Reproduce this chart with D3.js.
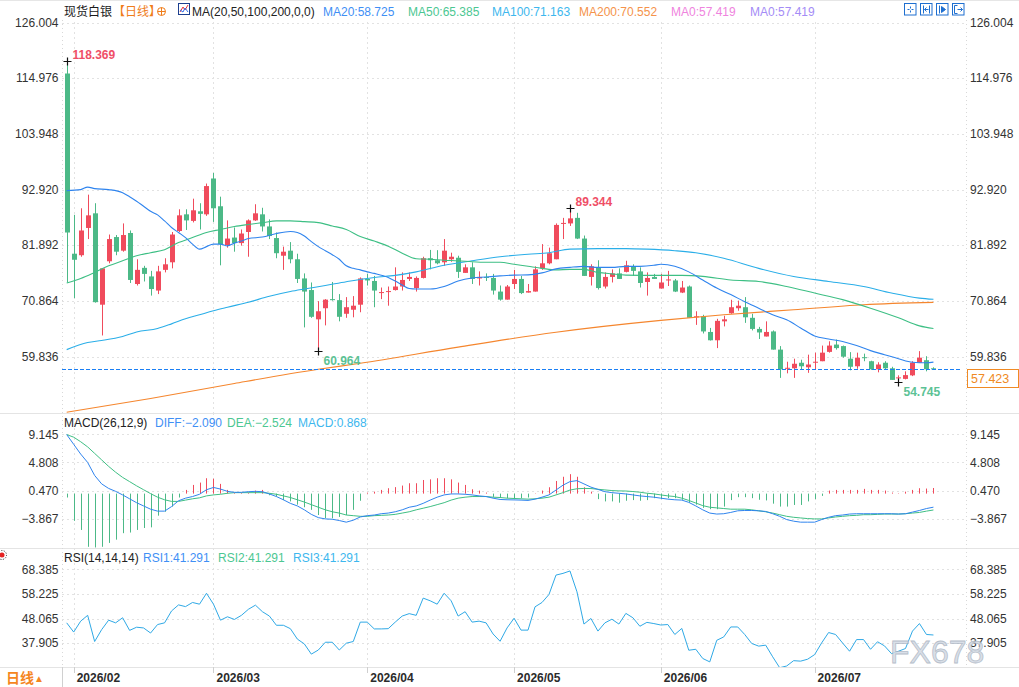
<!DOCTYPE html>
<html>
<head>
<meta charset="utf-8">
<title>现货白银 日线</title>
<script src="https://cdn.jsdelivr.net/npm/d3@7/dist/d3.min.js"></script>
<style>
  body { margin: 0; background: #fff; }
  svg { display: block; font-family: "Liberation Sans", Arial, "Noto Sans CJK SC", sans-serif; }
</style>
</head>
<body>
<svg id="chart" width="1019" height="687"></svg>
<script>
'use strict';

// daily candles, one per trading day (index 0 = last day of January)
var openPrices = [
  115.9, 80.2, 79.9, 85.3, 88.2, 70.1, 78.7, 83.5, 80.8, 84.3,
  74.2, 77.4, 75.7, 72.9, 77.0, 78.5, 84.7, 88.0, 86.7, 88.6,
  88.0, 95.1, 89.6, 81.9, 83.4, 82.3, 84.5, 86.8, 88.0, 85.6,
  83.3, 79.8, 80.8, 79.1, 75.3, 73.0, 67.2, 69.4, 71.2, 71.0,
  68.3, 69.1, 70.1, 75.2, 74.8, 72.4, 72.6, 73.0, 73.7, 75.2,
  73.4, 75.4, 79.3, 78.9, 78.5, 79.1, 79.4, 76.4, 77.5, 75.3,
  75.6, 75.4, 72.7, 71.1, 74.2, 75.2, 72.5, 72.7, 77.3, 78.3,
  79.1, 86.1, 86.2, 87.3, 83.2, 75.6, 77.5, 73.7, 75.6, 76.3,
  76.6, 77.7, 76.7, 74.6, 75.6, 73.3, 74.9, 74.9, 72.5, 73.7,
  67.6, 67.8, 64.7, 63.05, 66.8, 68.4, 69.4, 69.6, 67.5, 65.3,
  63.8, 64.8, 61.2, 57.4, 57.5, 58.6, 57.7, 58.6, 58.9, 60.75,
  62.2, 61.9, 59.4, 57.9, 59.7, 58.9, 57.3, 58.6, 57.5, 55.5,
  55.4, 56.1, 58.6, 59.1, 57.5
];
var highPrices = [
  118.369, 87.9, 89.2, 91.9, 90.2, 77.3, 84.0, 83.9, 86.2, 84.8,
  79.1, 77.8, 76.8, 77.8, 79.3, 84.5, 89.0, 89.0, 91.1, 90.2,
  94.1, 96.2, 91.5, 86.8, 85.4, 85.0, 87.0, 90.0, 89.3, 87.0,
  84.4, 81.6, 82.5, 80.2, 76.3, 74.5, 70.8, 71.2, 74.6, 72.2,
  71.6, 71.8, 75.5, 76.2, 75.8, 73.5, 73.7, 77.5, 76.5, 76.5,
  75.7, 79.6, 80.95, 80.9, 83.1, 80.4, 79.8, 78.1, 78.5, 76.7,
  76.3, 76.2, 73.9, 74.0, 77.0, 75.8, 74.2, 77.7, 82.1, 81.4,
  86.2, 87.3, 89.344, 88.3, 83.8, 78.1, 78.9, 76.5, 77.1, 77.3,
  78.8, 78.1, 77.5, 76.5, 76.2, 76.2, 76.8, 75.2, 74.8, 73.9,
  68.8, 68.1, 65.5, 67.3, 67.9, 71.07, 70.9, 71.6, 68.3, 65.7,
  66.8, 65.0, 61.9, 58.8, 59.4, 59.2, 60.2, 60.6, 62.0, 62.85,
  63.2, 62.0, 60.7, 60.6, 60.4, 59.0, 58.7, 58.9, 57.8, 56.1,
  56.9, 58.9, 60.9, 59.9, 57.7
];
var lowPrices = [
  74.5, 71.4, 79.6, 83.1, 70.5, 64.0, 78.3, 79.9, 80.6, 74.4,
  73.9, 74.7, 71.9, 72.2, 76.5, 77.3, 84.5, 84.9, 86.4, 85.0,
  87.7, 86.5, 77.9, 81.4, 80.6, 81.8, 79.6, 86.7, 84.6, 83.1,
  79.3, 77.0, 78.3, 74.4, 65.6, 67.5, 60.964, 66.0, 70.9, 66.8,
  67.5, 67.6, 68.6, 73.9, 69.6, 71.2, 69.9, 72.9, 72.9, 74.8,
  72.7, 75.3, 77.1, 78.1, 77.8, 78.6, 75.4, 76.4, 74.2, 73.9,
  74.8, 72.1, 70.9, 71.1, 73.2, 72.2, 72.5, 72.7, 77.0, 78.1,
  79.1, 83.1, 85.7, 83.1, 75.8, 73.9, 73.1, 73.3, 74.5, 75.2,
  76.5, 75.8, 73.5, 71.9, 75.2, 73.3, 73.8, 72.6, 72.4, 67.5,
  66.1, 64.4, 63.0, 61.5, 65.8, 68.3, 68.9, 66.5, 65.0, 63.3,
  63.8, 61.2, 55.6, 56.5, 55.6, 57.3, 56.6, 57.3, 58.9, 60.6,
  61.2, 59.6, 57.1, 57.4, 58.9, 57.2, 56.7, 57.3, 55.2, 54.745,
  55.3, 55.95, 58.6, 56.9, 57.2
];
var closePrices = [
  84.4, 79.0, 84.8, 87.8, 70.6, 77.3, 83.1, 80.6, 83.9, 75.0,
  77.0, 76.2, 73.2, 76.7, 78.1, 84.0, 87.8, 86.8, 88.8, 88.1,
  93.6, 89.2, 82.1, 83.2, 82.3, 84.2, 86.8, 88.2, 85.6, 83.7,
  80.3, 80.6, 79.1, 75.2, 72.7, 67.7, 68.8, 71.1, 71.0, 67.7,
  69.6, 69.9, 75.3, 74.9, 72.9, 72.6, 72.8, 73.7, 75.0, 75.6,
  75.4, 79.3, 78.9, 78.3, 80.8, 79.6, 76.6, 77.5, 75.2, 75.6,
  75.4, 72.9, 71.1, 73.7, 75.2, 72.4, 72.8, 77.1, 78.3, 80.3,
  85.9, 86.3, 87.2, 83.2, 75.8, 77.7, 73.4, 75.6, 76.3, 75.2,
  77.9, 76.8, 74.4, 75.4, 75.2, 74.5, 75.1, 72.7, 73.5, 67.5,
  67.8, 64.8, 63.05, 66.9, 67.2, 69.6, 69.9, 67.6, 65.3, 64.6,
  64.7, 61.2, 57.3, 57.6, 58.4, 57.9, 58.25, 58.8, 60.6, 62.0,
  61.5, 59.8, 57.8, 59.6, 59.5, 57.3, 58.25, 57.5, 55.2, 55.7,
  56.15, 58.6, 59.6, 57.3, 57.423
];

// moving averages as [day index, value]
var ma20 = [
  [0, 92.7], [2, 92.9], [3, 93.4], [4, 93.1], [6, 92.9], [8, 92.3], [9, 91.5], [10, 90.6],
  [11, 89.6], [12, 88.6], [13, 87.9], [14, 86.7], [15, 85.4], [16, 84.4], [17, 83.4], [18, 82.1],
  [19, 81.1], [20, 81.6], [21, 82.1], [22, 82.1], [23, 81.75], [24, 82.3], [25, 82.7], [26, 83.2],
  [28, 83.5], [30, 84.2], [32, 84.6], [33, 84.4], [34, 83.7], [35, 82.6], [36, 81.6], [37, 80.8],
  [38, 80.0], [39, 79.1], [40, 77.8], [41, 77.3], [42, 77.0], [43, 76.6], [44, 76.3], [46, 75.5],
  [47, 74.8], [48, 74.0], [49, 73.3], [50, 73.2], [52, 73.2], [54, 73.7], [56, 74.8], [58, 75.4],
  [60, 75.6], [62, 75.8], [64, 75.96], [66, 76.0], [68, 76.4], [70, 77.2], [72, 77.5], [74, 77.7],
  [76, 77.5], [78, 77.5], [80, 77.7], [82, 77.7], [84, 77.9], [85, 78.1], [87, 77.7], [89, 76.6],
  [91, 75.0], [93, 73.4], [95, 72.1], [97, 70.7], [99, 69.4], [101, 68.1], [103, 67.1], [105, 65.5],
  [107, 63.9], [109, 63.3], [111, 62.8], [113, 62.0], [115, 61.0], [117, 60.2], [119, 59.4],
  [121, 58.7], [123, 58.6], [124, 58.725]
];
var ma50 = [
  [0, 74.4], [2, 75.3], [4, 76.5], [6, 77.8], [8, 78.8], [10, 79.8], [12, 80.4], [14, 81.0],
  [16, 82.4], [18, 83.4], [20, 84.4], [22, 85.0], [24, 85.6], [26, 86.0], [28, 86.35], [30, 86.7],
  [32, 86.7], [34, 86.55], [36, 86.35], [38, 85.7], [40, 85.0], [42, 83.6], [44, 82.7], [46, 81.7],
  [48, 80.3], [50, 79.2], [52, 79.1], [54, 78.9], [56, 78.8], [58, 78.6], [60, 78.5], [62, 78.5],
  [64, 78.1], [66, 77.7], [68, 77.3], [70, 77.0], [72, 77.1], [74, 77.1], [76, 76.5], [78, 76.2],
  [80, 75.96], [84, 75.9], [88, 75.9], [91, 75.7], [95, 75.0], [99, 74.7], [103, 73.7],
  [107, 72.4], [111, 71.1], [115, 69.4], [119, 67.5], [122, 65.9], [124, 65.385]
];
var ma100 = [
  [0, 61.2], [3, 62.6], [5, 63.0], [8, 63.8], [10, 64.7], [13, 65.4], [15, 66.3], [17, 67.3],
  [19, 68.1], [21, 68.9], [23, 69.6], [26, 70.6], [29, 71.76], [32, 72.7], [34, 73.2], [37, 73.9],
  [40, 74.65], [44, 75.5], [47, 75.9], [50, 76.6], [54, 77.9], [58, 78.8], [62, 79.6], [66, 80.1],
  [69, 80.4], [72, 81.1], [76, 81.2], [80, 81.2], [83, 81.1], [87, 80.8], [90, 80.4], [94, 79.3],
  [99, 77.3], [104, 75.7], [109, 74.7], [114, 73.7], [118, 72.4], [122, 71.4], [124, 71.163]
];
var ma200 = [
  [0, 48.8], [12, 51.5], [24, 54.5], [36, 57.3], [42, 58.5], [56, 61.7], [70, 64.65],
  [85, 67.0], [94, 68.1], [104, 69.1], [114, 70.1], [124, 70.552]
];
var ma0Value = 57.419;

// MACD(26,12,9)
var macdDiff = [
  9.1, 7.6, 6.1, 4.8, 2.8, 1.5, 0.8, 0.35, -0.2, -0.8,
  -1.4, -1.9, -2.4, -2.7, -2.7, -2.0, -1.1, -0.7, -0.45, -0.1,
  0.6, 0.95, 0.7, 0.35, 0.2, 0.2, 0.3, 0.35, 0.3, -0.05,
  -0.45, -0.95, -1.5, -1.9, -2.5, -3.2, -3.7, -3.9, -3.95, -4.15,
  -4.4, -4.1, -3.6, -3.4, -3.3, -3.1, -3.0, -2.8, -2.5, -2.1,
  -1.9, -1.5, -1.0, -0.55, -0.2, -0.05, -0.05, -0.1, -0.2, -0.35,
  -0.45, -0.7, -0.9, -0.95, -0.97, -1.0, -1.05, -0.85, -0.55, -0.2,
  0.55, 1.3, 1.85, 2.0, 1.5, 1.0, 0.65, 0.3, 0.15, 0.05,
  -0.05, -0.2, -0.35, -0.45, -0.55, -0.7, -0.85, -0.95, -1.0, -1.35,
  -1.9, -2.5, -3.0, -3.15, -3.1, -2.9, -2.65, -2.6, -2.6, -2.65,
  -2.75, -3.1, -3.5, -4.0, -4.25, -4.4, -4.4, -4.4, -4.0, -3.65,
  -3.4, -3.3, -3.15, -3.1, -3.1, -3.1, -3.1, -3.1, -3.1, -3.15,
  -3.1, -2.85, -2.6, -2.3, -2.09
];
var macdDea = [
  9.1, 8.7, 8.0, 7.2, 6.2, 5.2, 4.2, 3.3, 2.5, 1.85,
  1.2, 0.6, 0.0, -0.55, -0.95, -1.2, -1.2, -1.0, -0.8, -0.65,
  -0.35, -0.2, -0.1, 0.05, 0.15, 0.15, 0.15, 0.15, 0.15, 0.05,
  -0.1, -0.35, -0.6, -0.95, -1.3, -1.7, -2.1, -2.5, -2.8, -3.0,
  -3.3, -3.4, -3.5, -3.5, -3.4, -3.35, -3.3, -3.2, -3.0, -2.8,
  -2.5, -2.25, -2.0, -1.7, -1.4, -1.0, -0.7, -0.55, -0.45, -0.45,
  -0.45, -0.55, -0.6, -0.7, -0.75, -0.8, -0.85, -0.8, -0.7, -0.55,
  -0.2, 0.15, 0.55, 0.75, 0.8, 0.78, 0.67, 0.57, 0.47, 0.42,
  0.4, 0.32, 0.22, 0.06, -0.04, -0.2, -0.35, -0.45, -0.7, -1.05,
  -1.45, -1.85, -2.1, -2.2, -2.3, -2.4, -2.4, -2.4, -2.5, -2.65,
  -2.8, -3.0, -3.25, -3.5, -3.65, -3.75, -3.85, -3.9, -3.9, -3.75,
  -3.6, -3.5, -3.4, -3.35, -3.25, -3.25, -3.2, -3.15, -3.15, -3.15,
  -3.1, -3.0, -2.9, -2.7, -2.524
];
var macdHist = [
  -0.6, -4.2, -5.6, -8.2, -8.3, -8.2, -7.6, -7.1, -6.1, -6.0,
  -5.6, -5.3, -5.2, -3.4, -2.8, -2.0, -0.6, 0.57, 1.34, 1.7,
  2.37, 2.3, 1.5, 0.57, 0.1, 0.1, 0.16, 0.46, 0.57, -0.25,
  -0.45, -1.0, -1.2, -1.7, -2.1, -2.5, -3.3, -3.8, -3.8, -3.6,
  -3.3, -2.5, -1.1, 0.15, 0.3, 0.57, 0.83, 1.0, 1.24, 1.6,
  1.6, 2.1, 2.2, 2.37, 2.37, 2.2, 1.7, 1.34, 0.67, 0.46,
  0.16, -0.5, -0.65, -0.7, -0.7, -0.7, -0.6, 0.05, 0.47, 0.98,
  1.95, 2.6, 3.0, 2.6, 0.98, 0.3, -0.85, -1.2, -1.2, -1.4,
  -1.1, -1.0, -1.1, -1.0, -0.7, -0.85, -0.7, -0.7, -0.95, -1.4,
  -1.7, -2.2, -2.4, -2.4, -2.0, -1.0, -0.55, -0.55, -0.7, -0.95,
  -1.05, -1.55, -2.0, -2.0, -1.75, -1.75, -1.2, -0.85, -0.35, 0.47,
  0.57, 0.57, 0.57, 0.57, 0.73, 0.57, 0.57, 0.47, 0.16, 0.06,
  0.3, 0.57, 0.83, 0.78, 0.868
];

// RSI(14,14,14) – the three lines coincide
var rsiValues = [
  46.3, 42.5, 47.0, 49.4, 38.6, 43.5, 47.4, 46.3, 48.4, 43.2,
  44.5, 44.2, 42.1, 45.6, 46.3, 51.2, 53.7, 53.0, 54.7, 54.0,
  58.5, 54.0, 47.4, 48.8, 47.7, 49.4, 51.9, 53.6, 50.9, 49.1,
  45.3, 45.3, 43.9, 39.6, 37.6, 33.4, 35.1, 38.3, 38.3, 35.1,
  37.9, 38.6, 46.6, 46.6, 43.8, 43.8, 43.9, 46.6, 49.1, 50.1,
  49.4, 56.5, 55.4, 54.0, 58.5, 55.4, 49.1, 50.9, 46.6, 47.0,
  46.3, 41.7, 38.7, 44.2, 48.2, 43.3, 43.3, 52.9, 54.7, 58.0,
  66.0, 66.7, 67.7, 59.1, 45.8, 48.1, 42.9, 46.3, 47.8, 45.8,
  50.2, 48.4, 44.9, 46.5, 46.0, 45.4, 45.6, 41.5, 44.0, 35.0,
  35.4, 31.6, 30.2, 39.1, 40.5, 44.6, 44.6, 41.5, 37.8, 36.7,
  37.1, 32.3, 27.8, 28.5, 30.7, 30.5, 31.3, 33.2, 38.0, 42.3,
  41.5, 38.0, 34.6, 39.4, 39.4, 35.4, 38.5, 36.8, 33.6, 34.6,
  35.7, 42.9, 46.0, 41.5, 41.291
];

var monthIdx = [1, 21, 43, 64, 85, 107];
var monthLabels = ['2026/02', '2026/03', '2026/04', '2026/05', '2026/06', '2026/07'];
var priceTicks = [126.004, 114.976, 103.948, 92.920, 81.892, 70.864, 59.836];
var macdTicks = [9.145, 4.808, 0.470, -3.867];
var rsiTicks = [68.385, 58.225, 48.065, 37.905];
var highMarkIdx = [0, 72];
var lowMarkIdx = [36, 119];

var UP = '#f04b5c', DOWN = '#4cb987';
var GRID = '#e2e2e2';
var fmt = d3.format('.3f');

var svg = d3.select('#chart');
var plotL = 62, plotR = 966;
var panels = {
  main: { top: 0, bottom: 413, gridTop: 22 },
  macd: { top: 413, bottom: 548, gridTop: 413 },
  rsi: { top: 548, bottom: 667, gridTop: 548 }
};

var x = d3.scaleLinear().domain([-0.6, 128.3]).range([62.5, 963.5]);
var yMain = d3.scaleLinear().domain([59.836, 126.004]).range([356.5, 22.5]);
var yMacd = d3.scaleLinear().domain([-3.867, 9.145]).range([518.7, 434.3]);
var yRsi = d3.scaleLinear().domain([37.905, 68.385]).range([643.2, 569.3]);

var defs = svg.append('defs');
Object.keys(panels).forEach(function(k) {
  var p = panels[k];
  defs.append('clipPath').attr('id', 'clip-' + k)
    .append('rect').attr('x', plotL).attr('y', p.top)
    .attr('width', plotR - plotL).attr('height', p.bottom - p.top);
});

var px = function(i) { return Math.round(x(i)) + 0.5; };

/* frame: separators, axis borders, grids */
svg.append('line').attr('x1', 0).attr('x2', 1019).attr('y1', 0.5).attr('y2', 0.5)
  .attr('stroke', '#e6e6e6');
[panels.main.bottom, panels.macd.bottom, panels.rsi.bottom].forEach(function(yy) {
  svg.append('line').attr('x1', 0).attr('x2', 1019).attr('y1', yy + 0.5).attr('y2', yy + 0.5)
    .attr('stroke', '#e4e4e4');
});
[plotL, plotR].forEach(function(xx) {
  svg.append('line').attr('x1', xx + 0.5).attr('x2', xx + 0.5).attr('y1', 20).attr('y2', 667)
    .attr('stroke', '#d8d8d8').attr('stroke-dasharray', '1,3');
});
svg.append('line').attr('x1', plotL + 0.5).attr('x2', plotL + 0.5).attr('y1', 667).attr('y2', 687)
  .attr('stroke', '#d0d0d0');

function drawAxis(scale, ticks, panel) {
  var g = svg.append('g');
  g.selectAll('line.h').data(ticks).enter().append('line')
    .attr('x1', plotL).attr('x2', plotR)
    .attr('y1', function(d) { return Math.round(scale(d)) + 0.5; })
    .attr('y2', function(d) { return Math.round(scale(d)) + 0.5; })
    .attr('stroke', GRID).attr('stroke-dasharray', '2,3');
  g.selectAll('line.v').data(monthIdx).enter().append('line')
    .attr('x1', px).attr('x2', px)
    .attr('y1', panel.gridTop).attr('y2', panel.bottom)
    .attr('stroke', GRID).attr('stroke-dasharray', '2,3');
  g.selectAll('text.l').data(ticks).enter().append('text')
    .attr('x', 58.5).attr('y', function(d) { return scale(d); }).attr('dy', '0.35em')
    .attr('text-anchor', 'end').attr('font-size', 12).attr('fill', '#333')
    .text(fmt);
  g.selectAll('text.r').data(ticks).enter().append('text')
    .attr('x', 970).attr('y', function(d) { return scale(d); }).attr('dy', '0.35em')
    .attr('font-size', 12).attr('fill', '#333')
    .text(fmt);
}
drawAxis(yMain, priceTicks, panels.main);
drawAxis(yMacd, macdTicks, panels.macd);
drawAxis(yRsi, rsiTicks, panels.rsi);

/* x axis (months) */
var xa = svg.append('g');
xa.selectAll('line').data(monthIdx).enter().append('line')
  .attr('x1', px).attr('x2', px).attr('y1', 667).attr('y2', 673).attr('stroke', '#cfcfcf');
xa.selectAll('text').data(monthIdx).enter().append('text')
  .attr('x', function(d) { return x(d) + 3; }).attr('y', 682)
  .attr('font-size', 12).attr('font-weight', 'bold').attr('fill', '#2b2b2b')
  .text(function(d, k) { return monthLabels[k]; });

/* candles */
var candles = d3.range(closePrices.length).map(function(i) {
  return { i: i, o: openPrices[i], h: highPrices[i], l: lowPrices[i], c: closePrices[i] };
});
var colorOf = function(d) { return d.c >= d.o ? UP : DOWN; };
var cg = svg.append('g').attr('clip-path', 'url(#clip-main)');
cg.selectAll('line.wick').data(candles).enter().append('line')
  .attr('x1', function(d) { return px(d.i); }).attr('x2', function(d) { return px(d.i); })
  .attr('y1', function(d) { return yMain(d.h); }).attr('y2', function(d) { return yMain(d.l); })
  .attr('stroke', colorOf);
cg.selectAll('rect.body').data(candles).enter().append('rect')
  .attr('x', function(d) { return Math.round(x(d.i)) - 2; })
  .attr('width', 5)
  .attr('y', function(d) { return yMain(Math.max(d.o, d.c)); })
  .attr('height', function(d) { return Math.max(1, yMain(Math.min(d.o, d.c)) - yMain(Math.max(d.o, d.c))); })
  .attr('fill', colorOf);

/* moving averages */
var maLine = d3.line()
  .x(function(d) { return x(d[0]); })
  .y(function(d) { return yMain(d[1]); })
  .curve(d3.curveMonotoneX);
[[ma200, '#f5862e'], [ma100, '#2aaee8'], [ma50, '#3dbf84'], [ma20, '#2f84ee']].forEach(function(m) {
  cg.append('path').datum(m[0]).attr('d', maLine)
    .attr('fill', 'none').attr('stroke', m[1]).attr('stroke-width', 1.1);
});

/* last price line and tag */
var lastClose = closePrices[closePrices.length - 1];
var yLast = Math.round(yMain(lastClose)) + 0.5;
svg.append('path')
  .attr('d', d3.range(plotL, plotR - 4, 6).map(function(s) {
    return 'M' + s + ',' + yLast + 'h4';
  }).join(''))
  .attr('stroke', '#1a7ff5').attr('stroke-width', 1);
svg.append('rect').attr('x', 967.5).attr('y', yLast).attr('width', 51).attr('height', 18)
  .attr('fill', '#fff').attr('stroke', '#f08a24');
svg.append('text').attr('x', 971).attr('y', yLast + 13.5).attr('font-size', 12.5)
  .attr('fill', '#f08a24').text(fmt(lastClose));

/* high / low markers */
function cross(cx, cy) {
  svg.append('path')
    .attr('d', 'M' + (cx - 4) + ',' + cy + 'h8M' + cx + ',' + (cy - 4) + 'v8')
    .attr('stroke', '#111').attr('stroke-width', 1.2);
}
highMarkIdx.forEach(function(i) {
  var cx = px(i), cy = Math.round(yMain(highPrices[i])) + 0.5;
  cross(cx, cy);
  svg.append('text').attr('x', cx + 5).attr('y', cy - 3)
    .attr('font-size', 12).attr('font-weight', 'bold').attr('fill', '#ef4f67')
    .text(fmt(highPrices[i]));
});
lowMarkIdx.forEach(function(i) {
  var cx = px(i), cy = Math.round(yMain(lowPrices[i])) + 0.5;
  cross(cx, cy);
  svg.append('text').attr('x', cx + 5).attr('y', cy + 13)
    .attr('font-size', 12).attr('font-weight', 'bold').attr('fill', '#5cc295')
    .text(fmt(lowPrices[i]));
});

/* MACD panel */
var mg = svg.append('g').attr('clip-path', 'url(#clip-macd)');
mg.selectAll('line.bar').data(macdHist).enter().append('line')
  .attr('x1', function(d, i) { return px(i); }).attr('x2', function(d, i) { return px(i); })
  .attr('y1', yMacd(0)).attr('y2', function(d) { return yMacd(d); })
  .attr('stroke', function(d) { return d >= 0 ? UP : DOWN; });
var idxLine = function(scale) {
  return d3.line().x(function(d, i) { return x(i); }).y(function(d) { return scale(d); });
};
mg.append('path').datum(macdDea).attr('d', idxLine(yMacd))
  .attr('fill', 'none').attr('stroke', '#3fbf84');
mg.append('path').datum(macdDiff).attr('d', idxLine(yMacd))
  .attr('fill', 'none').attr('stroke', '#2f84ee');

/* RSI panel */
var rg = svg.append('g').attr('clip-path', 'url(#clip-rsi)');
rg.append('path').datum(rsiValues).attr('d', idxLine(yRsi))
  .attr('fill', 'none').attr('stroke', '#2fa9e6');

/* header rows */
function label(xx, yy, txt, color, size, family) {
  return svg.append('text').attr('x', xx).attr('y', yy)
    .attr('font-size', size || 12).attr('fill', color || '#222')
    .attr('font-family', family || null).text(txt);
}
var cjk = '"Noto Sans CJK SC", sans-serif';
label(64, 16, '现货白银', '#1a1a1a', 12, cjk);
label(113, 16, '【日线】', '#f07d1a', 12, cjk);
svg.append('circle').attr('cx', 161.5).attr('cy', 11.5).attr('r', 4)
  .attr('fill', 'none').attr('stroke', '#f07d1a');
svg.append('path').attr('d', 'M157.5,11.5h8M161.5,7.5v8').attr('stroke', '#f07d1a');
svg.append('rect').attr('x', 178.5).attr('y', 3.5).attr('width', 11).attr('height', 11)
  .attr('fill', '#fff').attr('stroke', '#1c3f8f');
svg.append('path').attr('d', 'M180,12l3,-5l2,3l3,-5').attr('fill', 'none').attr('stroke', '#e8333c');
svg.append('path').attr('d', 'M180,10l3,2l2,-4l3,4').attr('fill', 'none').attr('stroke', '#2f6ee8');

var last = function(a) { return a[a.length - 1][1]; };
label(192, 16, 'MA(20,50,100,200,0,0)');
label(323, 16, 'MA20:' + fmt(last(ma20)), '#3f8ff5');
label(408, 16, 'MA50:' + fmt(last(ma50)), '#4cc792');
label(492, 16, 'MA100:' + fmt(last(ma100)), '#3db7ee');
label(579, 16, 'MA200:' + fmt(last(ma200)), '#f5934a');
label(671, 16, 'MA0:' + fmt(ma0Value), '#ef84de');
label(750, 16, 'MA0:' + fmt(ma0Value), '#a48cf6');

label(64, 427, 'MACD(26,12,9)');
label(155, 427, 'DIFF:' + fmt(macdDiff[macdDiff.length - 1]), '#3f8ff5');
label(227, 427, 'DEA:' + fmt(macdDea[macdDea.length - 1]), '#4cc792');
label(298, 427, 'MACD:' + fmt(macdHist[macdHist.length - 1]), '#3db7ee');

var rsiLast = fmt(rsiValues[rsiValues.length - 1]);
label(64, 562, 'RSI(14,14,14)');
label(143, 562, 'RSI1:' + rsiLast, '#3f8ff5');
label(218, 562, 'RSI2:' + rsiLast, '#4cc792');
label(293, 562, 'RSI3:' + rsiLast, '#3db7ee');

/* tool icons, top right */
var icons = [
  'M3,6h2M7,6h2M6,3v2M6,7v2',
  'M3,2v8M9,2v8M4,6h4M4,6l2,-2M4,6l2,2',
  'M3,2v8M5,3v6l4,-3z',
  'M2,2v8h3M2,2h3M5,6h5M8,4l2,2l-2,2'
];
icons.forEach(function(d, k) {
  var g = svg.append('g').attr('transform', 'translate(' + (904.5 + k * 16) + ',3.5)');
  g.append('rect').attr('width', 11.5).attr('height', 11.5).attr('fill', '#fff').attr('stroke', '#1e6fd0');
  g.append('path').attr('d', d).attr('fill', k === 2 ? '#1e6fd0' : 'none').attr('stroke', '#1e6fd0');
});

/* small red marker at the left of the RSI header */
svg.append('circle').attr('cx', 2).attr('cy', 555).attr('r', 4.5)
  .attr('fill', 'none').attr('stroke', '#222').attr('stroke-dasharray', '1,1.5');
svg.append('circle').attr('cx', 2).attr('cy', 555).attr('r', 2.5).attr('fill', '#e52222');

/* bottom left period switch */
label(6, 683, '日线', '#f5861f', 14, cjk).attr('font-weight', 'bold');
label(34, 682, '▲', '#f5861f', 10);

/* watermark (drawn over the axis, as in the source) */
svg.append('text').attr('x', 890).attr('y', 663)
  .attr('font-size', 32).attr('font-family', '"Liberation Sans", Arial, sans-serif')
  .attr('fill', '#d3dae4').attr('stroke', '#aab4c2').attr('stroke-width', 0.8)
  .attr('opacity', 0.85).text('FX678');
</script>
</body>
</html>
